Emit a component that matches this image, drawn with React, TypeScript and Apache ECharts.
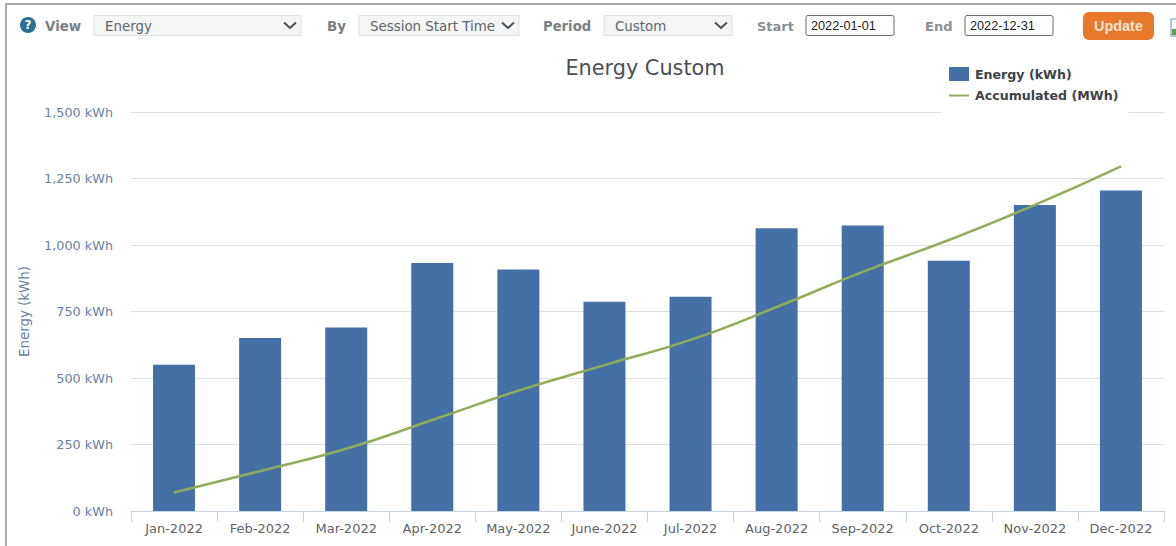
import React, { useEffect, useRef } from "react";
import * as echarts from "echarts";

const categories = ["Jan-2022","Feb-2022","Mar-2022","Apr-2022","May-2022","June-2022","Jul-2022","Aug-2022","Sep-2022","Oct-2022","Nov-2022","Dec-2022"];
const energyKWh = [550,650,690,932,908,787,805,1063,1073,941,1150,1205];
const accumulatedMWh = [0.58,1.25,1.95,2.85,3.77,4.57,5.36,6.39,7.49,8.49,9.59,10.8];
const yTicks = [0,250,500,750,1000,1250,1500];

const FONT = "'DejaVu Sans', sans-serif";

function label(text: string, x: number, y: number, extra: any = {}) {
  return { type: "text", x, y, silent: true, style: { text, font: `13.5px ${FONT}`, fill: "#6f7378", verticalAlign: "middle", ...extra } };
}
function selectBox(x: number, w: number, text: string) {
  return [
    { type: "rect", shape: { x, y: 15.5, width: w, height: 20 }, style: { fill: "#f4f5f5", stroke: "#dfe1e2", lineWidth: 1 } },
    label(text, x + 11, 26, { font: `13.4px ${FONT}`, fill: "#60656a" }),
    { type: "polyline", shape: { points: [[x + w - 17, 22.5], [x + w - 11, 28], [x + w - 5, 22.5]] }, style: { fill: "none", stroke: "#4a4f55", lineWidth: 2 } },
  ];
}
function inputBox(x: number, text: string) {
  return [
    { type: "rect", shape: { x, y: 15.5, width: 88, height: 20, r: 2 }, style: { fill: "#fff", stroke: "#6b6b6b", lineWidth: 1 } },
    { type: "text", x: x + 5, y: 26, style: { text, font: `12.7px 'Liberation Sans', Arial, sans-serif`, fill: "#222", verticalAlign: "middle" } },
  ];
}

export default function App() {
  const ref = useRef<HTMLDivElement>(null);
  useEffect(() => {
    document.body.style.margin = "0";
    const chart = echarts.init(ref.current!, undefined, { renderer: "svg" });
    chart.setOption({
      animation: false,
      backgroundColor: "#fff",
      title: {
        text: "Energy Custom", left: 640, top: 52, textAlign: "center",
        textStyle: { fontFamily: FONT, fontSize: 20.8, fontWeight: "normal", color: "#4a4f55" },
      },
      legend: {
        left: 941, top: 61, orient: "vertical", itemWidth: 20, itemHeight: 14, itemGap: 8,
        padding: [6, 10, 11, 8], backgroundColor: "#fff",
        textStyle: { fontFamily: FONT, fontSize: 12.6, fontWeight: "bold", color: "#3c4248", padding: [0, 0, 0, 1] },
        data: [{ name: "Energy (kWh)", icon: "rect" }, { name: "Accumulated (MWh)", icon: "path://M0 0H20V2H0Z" }],
      },
      grid: { left: 131, right: 12, top: 112, bottom: 35 },
      xAxis: {
        type: "category", data: categories,
        axisLine: { lineStyle: { color: "#c6d3e0" } },
        axisTick: { show: true, length: 11, alignWithLabel: false, lineStyle: { color: "#c6d3e0" } },
        axisLabel: { fontFamily: FONT, fontSize: 13, color: "#5f6368", margin: 11, interval: 0 },
      },
      yAxis: [
        {
          type: "value", min: 0, max: 1500, interval: 250,
          name: "Energy (kWh)", nameLocation: "middle", nameGap: 100, nameRotate: 90,
          nameTextStyle: { fontFamily: FONT, fontSize: 13.4, color: "#6a7fa3" },
          axisLabel: {
            fontFamily: FONT, fontSize: 12.8, color: "#6a7fa3", margin: 18,
            formatter: (v: number) => `${yTicks.includes(v) ? v.toLocaleString("en-US") : v} kWh`,
          },
          axisLine: { show: false }, axisTick: { show: false },
          splitLine: { lineStyle: { color: "#dcdfe2" } },
        },
        { type: "value", min: 0, max: 12.5, show: false, splitLine: { show: false } },
      ],
      series: [
        { name: "Energy (kWh)", type: "bar", data: energyKWh, barWidth: 42, itemStyle: { color: "#4470a6" }, z: 2 },
        { name: "Accumulated (MWh)", type: "line", yAxisIndex: 1, data: accumulatedMWh, smooth: 0.5, symbol: "none", lineStyle: { color: "#8fad5a", width: 2.5 }, itemStyle: { color: "#8fad5a" }, z: 3 },
      ],
      graphic: [
        { type: "group", silent: true, children: [
          { type: "line", shape: { x1: 5, y1: 4, x2: 1176, y2: 4 }, style: { stroke: "#a9a9a9", lineWidth: 2 } },
          { type: "line", shape: { x1: 6, y1: 4, x2: 6, y2: 546 }, style: { stroke: "#a9a9a9", lineWidth: 2 } },
          { type: "circle", shape: { cx: 28, cy: 25, r: 8 }, style: { fill: "#2c6f94" } },
          { type: "text", x: 28, y: 25, style: { text: "?", font: `bold 12px ${FONT}`, fill: "#fff", align: "center", verticalAlign: "middle" } },
          label("View", 45, 26, { font: `bold 13.4px ${FONT}`, fill: "#7a7f84" }),
          ...selectBox(94, 207, "Energy"),
          label("By", 327, 26, { font: `bold 13.4px ${FONT}`, fill: "#7a7f84" }),
          ...selectBox(359, 160, "Session Start Time"),
          label("Period", 543, 26, { font: `bold 13.2px ${FONT}`, fill: "#7a7f84" }),
          ...selectBox(604, 128, "Custom"),
          label("Start", 757, 26, { font: `bold 13px ${FONT}`, fill: "#8a8f94" }),
          ...inputBox(806, "2022-01-01"),
          label("End", 925, 26, { font: `bold 13px ${FONT}`, fill: "#8a8f94" }),
          ...inputBox(965, "2022-12-31"),
          { type: "rect", shape: { x: 1083, y: 12, width: 71, height: 28, r: 6 }, style: { fill: "#e8782a" } },
          { type: "text", x: 1118.5, y: 25.5, style: { text: "Update", font: `bold 14.4px 'Liberation Sans', Arial, sans-serif`, fill: "#f6e3d2", align: "center", verticalAlign: "middle" } },
          { type: "rect", shape: { x: 1171, y: 19, width: 8, height: 17 }, style: { fill: "#fff", stroke: "#5f8fb5", lineWidth: 1 } },
          { type: "rect", shape: { x: 1172, y: 29, width: 4, height: 6 }, style: { fill: "#5fa04e" } },
        ] },
      ],
    });
    return () => chart.dispose();
  }, []);
  return <div ref={ref} style={{ width: 1176, height: 546 }} />;
}
